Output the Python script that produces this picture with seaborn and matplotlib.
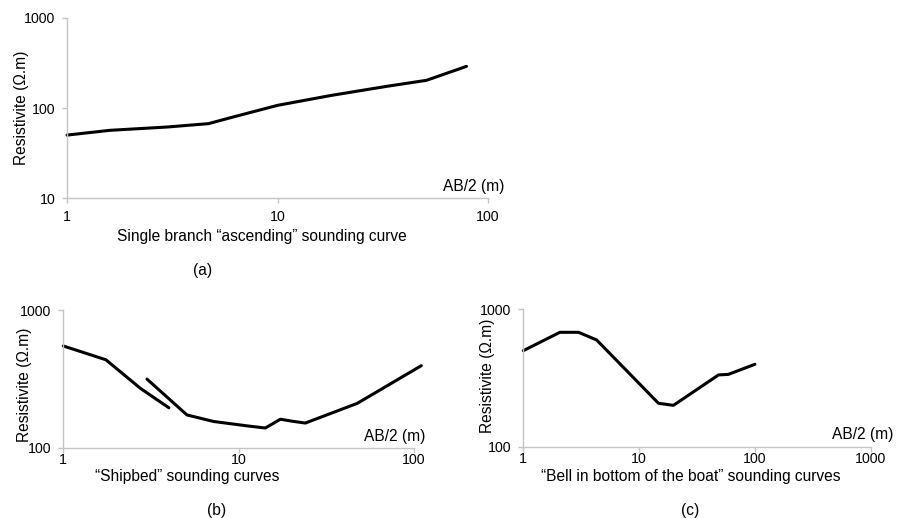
import matplotlib
matplotlib.use("Agg")
import matplotlib.pyplot as plt
import matplotlib.ticker as mticker
import seaborn as sns
import pandas as pd

sns.set_theme(style="white")
plt.rcParams["font.family"] = ["Liberation Sans", "DejaVu Sans"]
plt.rcParams["font.size"] = 10

# (a) single branch ascending curve
a_ab2 = [1, 1.6, 3.0, 4.7, 6.1, 10, 18, 33, 51, 79]
a_rho = [50, 56.5, 61.5, 67, 79, 107, 138, 174, 203, 290]

# (b) shipbed curves: two overlapping segments
b1_ab2 = [1, 1.75, 2.75, 4.0]
b1_rho = [548, 435, 270, 195]
b2_ab2 = [3.0, 5.07, 7.2, 11.2, 14.2, 17.3, 20, 24, 47.5, 110]
b2_rho = [315, 173, 155, 144, 139, 161, 156, 151, 210, 394]

# (c) bell in bottom of the boat curve
c_ab2 = [1, 2.07, 3.0, 4.3, 14.7, 19.8, 48.5, 59, 100]
c_rho = [500, 680, 680, 598, 207, 200, 333, 336, 398]

W, H = 901, 518
fig = plt.figure(figsize=(W / 100, H / 100), dpi=100)

LABEL_SIZE = 11.2
TICK_SIZE = 10.2


def axes_px(left, top, right, bottom):
    return fig.add_axes([left / W, 1 - bottom / H, (right - left) / W, (bottom - top) / H])


def ftext(x, y, s, **kw):
    fig.text(x / W, 1 - y / H, s, ha=kw.pop("ha", "center"), va=kw.pop("va", "center"),
             fontsize=kw.pop("fontsize", LABEL_SIZE), color="black", **kw)


GREY = "#c4c4c4"


def style(ax, xlim, ylim, xticks, yticks, xpad):
    ax.set_xscale("log")
    ax.set_yscale("log")
    ax.set_xlim(*xlim)
    ax.set_ylim(*ylim)
    ax.xaxis.set_major_locator(mticker.FixedLocator(xticks))
    ax.yaxis.set_major_locator(mticker.FixedLocator(yticks))
    ax.xaxis.set_minor_locator(mticker.NullLocator())
    ax.yaxis.set_minor_locator(mticker.NullLocator())
    ax.xaxis.set_major_formatter(mticker.FuncFormatter(lambda v, p: f"{v:g}"))
    ax.yaxis.set_major_formatter(mticker.FuncFormatter(lambda v, p: f"{v:g}"))
    for side in ("top", "right"):
        ax.spines[side].set_visible(False)
    for side in ("left", "bottom"):
        ax.spines[side].set_color(GREY)
        ax.spines[side].set_linewidth(1.0)
    ax.tick_params(axis="both", which="major", direction="out", length=3.5, width=1.0,
                   color=GREY, labelsize=TICK_SIZE, labelcolor="black",
                   bottom=True, left=True)
    ax.tick_params(axis="x", pad=xpad)
    ax.tick_params(axis="y", pad=5)
    ax.set_xlabel("")
    ax.set_ylabel("")
    ax.grid(False)
    ax.patch.set_alpha(0)


def curve(ax, xs, ys):
    df = pd.DataFrame({"AB/2": xs, "rho": ys})
    sns.lineplot(data=df, x="AB/2", y="rho", ax=ax, sort=False, estimator=None,
                 color="black", linewidth=2.2, clip_on=False)


# Panel (a)
ax_a = axes_px(67, 18, 488, 198)
curve(ax_a, a_ab2, a_rho)
style(ax_a, (1, 100), (10, 1000), [1, 10, 100], [10, 100, 1000], xpad=5)
ftext(22, 108, "Resistivite (Ω.m)", rotation=90)
ftext(443, 186, "AB/2 (m)", ha="left")
ftext(262, 237, "Single branch “ascending” sounding curve")
ftext(203, 270, "(a)")

# Panel (b)
ax_b = axes_px(63.3, 310, 414, 447.7)
curve(ax_b, b1_ab2, b1_rho)
curve(ax_b, b2_ab2, b2_rho)
style(ax_b, (1, 100), (100, 1000), [1, 10, 100], [100, 1000], xpad=0.5)
ftext(25, 385, "Resistivite (Ω.m)", rotation=90)
ftext(364, 436, "AB/2 (m)", ha="left")
ftext(187, 477, "“Shipbed” sounding curves")
ftext(217, 511, "(b)")

# Panel (c)
ax_c = axes_px(523.3, 309.3, 870.7, 446.7)
curve(ax_c, c_ab2, c_rho)
style(ax_c, (1, 1000), (100, 1000), [1, 10, 100, 1000], [100, 1000], xpad=0.5)
ftext(487.5, 376, "Resistivite (Ω.m)", rotation=90)
ftext(832, 434, "AB/2 (m)", ha="left")
ftext(691, 476, "“Bell in bottom of the boat” sounding curves")
ftext(690, 511, "(c)")

fig.savefig("out.png", dpi=100)
